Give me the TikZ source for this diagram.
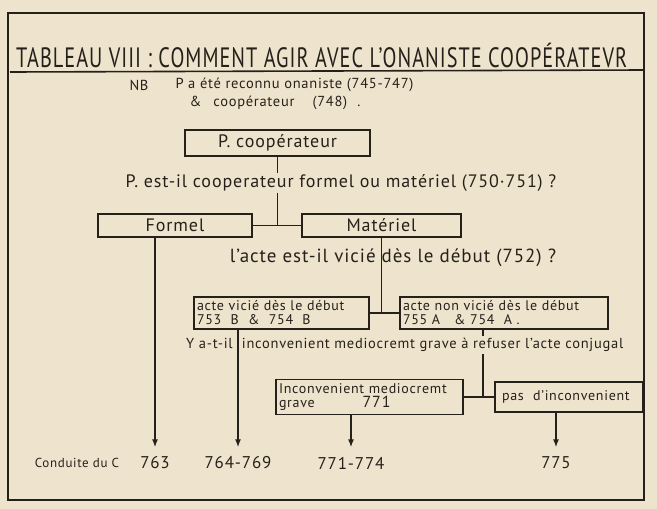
\documentclass[tikz,border=0pt]{standalone}
\usepackage{fontspec}
\setmainfont{PT Sans}[LetterSpace=5]
\usepackage{tikz}
\usetikzlibrary{arrows.meta}
\definecolor{papier}{RGB}{238,228,205}
\definecolor{encre}{RGB}{38,32,26}

\begin{document}
\begin{tikzpicture}[x=1pt,y=-1pt,
  every node/.style={text=encre},
  trait/.style={draw=encre,line width=1.6pt},
  boite/.style={draw=encre,line width=1.6pt,inner sep=3pt},
  question/.style={font=\fontsize{18}{20}\selectfont},
  petit/.style={font=\fontsize{14}{14}\selectfont},
  numero/.style={font=\fontsize{17}{19}\selectfont},
  fleche/.style={trait,-{Latex[length=8pt,width=6pt]},shorten >=6pt}]
  % fond et cadre
  \fill[papier] (0,0) rectangle (657,509);
  \useasboundingbox (0,0) rectangle (657,509);
  \draw[trait] (8,13) rectangle (644,500);
  % titre
  \node[anchor=base west,inner sep=0pt] (titre) at (16,67)
    {\fontsize{28}{30}\selectfont\scalebox{0.725}[1]{TABLEAU VIII : COMMENT AGIR AVEC L'ONANISTE COOPÉRATEVR}};
  \draw[trait] (10,72) -- (644,70);
  % NB
  \node[font=\fontsize{14.5}{17}\selectfont] (nb) at (139,85) {NB};
  \node[font=\fontsize{14.5}{17}\selectfont,anchor=west] (nbA) at (172,85) {P a été reconnu onaniste (745-747)};
  \node[font=\fontsize{14.5}{17}\selectfont,anchor=west] (nbB) at (186,103) {\&\hspace{12pt}coopérateur\hspace{18pt}(748)\hspace{10pt}.};
  % formel ou materiel
  \node[boite,minimum width=185pt,minimum height=26pt,font=\fontsize{18}{20}\selectfont] (coop) at (277.5,143) {P. coopérateur};
  \node[boite,minimum width=154pt,minimum height=23pt,font=\fontsize{18}{20}\selectfont] (formel) at (175,225.5) {Formel};
  \node[boite,minimum width=159pt,minimum height=23pt,font=\fontsize{18}{20}\selectfont] (materiel) at (381.5,225.5) {Matériel};
  \coordinate (j1) at (coop.south |- formel.east);
  \draw[trait] (coop.south) -- (j1);
  \draw[trait] (formel.east) -- (materiel.west);
  \node[question,fill=papier,inner sep=2pt] (q1) at (341,183) {P. est-il cooperateur formel ou matériel (750·751) ?};
  % vicie ou non
  \node[question,font=\fontsize{19}{21}\selectfont] (q2) at (393,258) {l'acte est-il vicié dès le début (752) ?};
  \node[boite,petit,text width=169pt,align=left,minimum height=32pt] (vicie) at (281.5,313) {acte vicié dès le début\\753\ \ B\ \ \&\ \ 754\ \ B};
  \node[boite,petit,text width=202pt,align=left,minimum height=32pt] (nonvicie) at (504,313) {acte non vicié dès le début\\755\ A\ \ \ \&\ 754\ \ A\ .};
  \coordinate (j2) at (materiel.south |- vicie.east);
  \draw[trait] (materiel.south) -- (j2);
  \draw[trait] (vicie.east) -- (nonvicie.west);
  % inconvenient
  \node[boite,petit,text width=181pt,align=left,minimum height=35pt] (incon) at (369.5,397) {Inconvenient mediocremt\\grave\hspace{48pt}{\fontsize{16}{14}\selectfont 771}};
  \node[boite,petit,text width=142pt,align=left,minimum height=30pt] (pas) at (569,397) {\hspace{4pt}pas\ \ d'inconvenient};
  \coordinate (d3) at ([xshift=-21pt]nonvicie.south);
  \coordinate (j3) at (d3 |- pas.west);
  \draw[trait] (d3) -- (j3);
  \draw[trait] (incon.east) -- (pas.west);
  \node[font=\fontsize{14.5}{16}\selectfont,fill=papier,inner sep=2pt,anchor=west] (q3) at (184,345) {Y a-t-il\ \ inconvenient mediocremt grave à refuser l'acte conjugal};
  % conduite
  \node[font=\fontsize{13}{16}\selectfont] (conduite) at (77,463) {Conduite du C};
  \node[numero] (n763) at (155,463) {763};
  \node[numero] (n764) at (238,463) {764-769};
  \node[numero] (n771) at (351,463) {771-774};
  \node[numero] (n775) at (556,463) {775};
  \draw[fleche] (n763 |- formel.south) -- (n763.north);
  \draw[fleche] (n764 |- vicie.south) -- (n764.north);
  \draw[fleche] (n771 |- incon.south) -- (n771.north);
  \draw[fleche] (n775 |- pas.south) -- (n775.north);
\end{tikzpicture}
\end{document}
